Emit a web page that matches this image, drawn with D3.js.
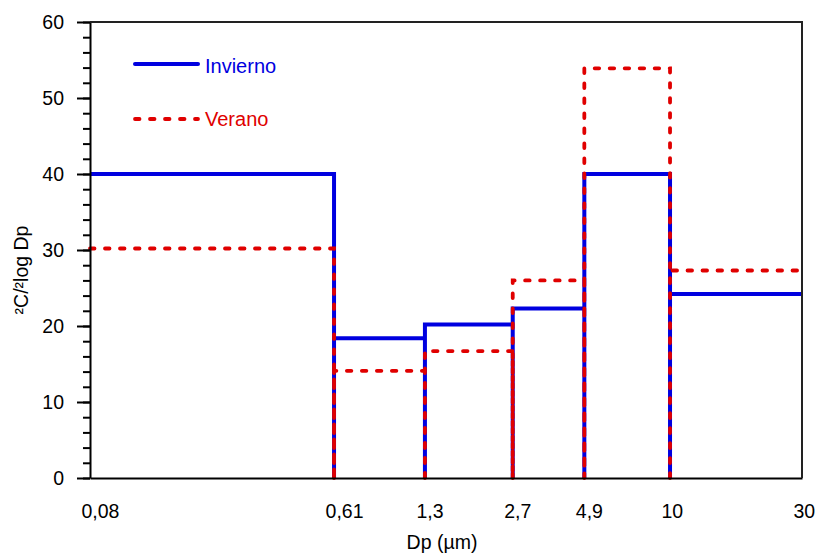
<!DOCTYPE html>
<html>
<head>
<meta charset="utf-8">
<script src="https://cdn.jsdelivr.net/npm/d3@7"></script>
<style>
  html, body { margin: 0; padding: 0; background: #fff; }
  svg { display: block; font-family: Arial, "Liberation Sans", sans-serif; }
</style>
</head>
<body>
<svg id="chart" width="818" height="555"></svg>
<script>
// ---- data ----
const binEdges = [0.08, 0.61, 1.3, 2.7, 4.9, 10, 30];
const xTickLabels = ["0,08", "0,61", "1,3", "2,7", "4,9", "10", "30"];
const invierno = [40, 18.4, 20.2, 22.3, 40, 24.2];
const verano = [30.2, 14.1, 16.7, 26.0, 53.9, 27.3];
const yMajorTicks = [0, 10, 20, 30, 40, 50, 60];
const seriesNames = ["Invierno", "Verano"];

// ---- layout ----
const svg = d3.select("#chart");
const pLeft = 90, pRight = 802, pTop = 22, pBottom = 478;
const x = d3.scaleLog().domain([0.08, 30]).range([pLeft, pRight]);
const y = d3.scaleLinear().domain([0, 60]).range([pBottom, pTop]);

const blue = "#0000e0", red = "#e00000";
const fontFam = "Arial, 'Liberation Sans', sans-serif";

function barsPath(vals) {
  const p = d3.path();
  const n = vals.length;
  vals.forEach((v, i) => {
    const x0 = x(binEdges[i]), x1 = x(binEdges[i + 1]);
    if (i === 0) p.moveTo(x0, y(v));
    else { p.moveTo(x0, y(0)); p.lineTo(x0, y(v)); }
    p.lineTo(x1, y(v));
    if (i < n - 1) p.lineTo(x1, y(0));
  });
  return p.toString();
}

svg.append("path")
  .attr("d", barsPath(invierno))
  .attr("fill", "none").attr("stroke", blue).attr("stroke-width", 4)
  .attr("stroke-linejoin", "miter");

svg.append("path")
  .attr("d", barsPath(verano))
  .attr("fill", "none").attr("stroke", red).attr("stroke-width", 3.8)
  .attr("stroke-linecap", "round")
  .attr("stroke-dasharray", "4.5,10.5");

// ---- axes ----
const minorTicks = d3.range(0, 61, 2);
svg.append("g").attr("transform", `translate(${pLeft},0)`)
  .call(d3.axisLeft(y).tickValues(minorTicks).tickSize(7).tickFormat("").tickSizeOuter(0))
  .call(g => g.select(".domain").remove())
  .call(g => g.selectAll("line").attr("stroke", "#000").attr("stroke-width", 2));

svg.append("g").attr("transform", `translate(${pLeft},0)`)
  .call(d3.axisLeft(y).tickValues(yMajorTicks).tickSize(13).tickPadding(13).tickSizeOuter(0))
  .call(g => g.select(".domain").attr("stroke", "#000").attr("stroke-width", 2))
  .call(g => g.selectAll("line").attr("stroke", "#000").attr("stroke-width", 2))
  .call(g => g.selectAll("text").attr("font-size", 19.5).attr("fill", "#000")
    .attr("font-family", fontFam));

svg.append("g").attr("transform", `translate(0,${pBottom})`)
  .call(d3.axisBottom(x).tickValues(binEdges).tickSize(0).tickPadding(26)
    .tickFormat((d, i) => xTickLabels[i]).tickSizeOuter(0))
  .call(g => g.select(".domain").attr("stroke", "#000").attr("stroke-width", 2))
  .call(g => g.selectAll("text").attr("font-size", 19.5).attr("fill", "#000")
    .attr("text-anchor", "start").attr("dx", -9)
    .attr("font-family", fontFam));

// frame top & right
svg.append("path")
  .attr("d", `M${pLeft},${pTop}H${pRight}V${pBottom}`)
  .attr("fill", "none").attr("stroke", "#222").attr("stroke-width", 2);

// axis titles
svg.append("text")
  .attr("x", 442).attr("y", 549)
  .attr("text-anchor", "middle").attr("font-size", 19.5)
  .text("Dp (µm)");

svg.append("text")
  .attr("transform", "translate(28,270) rotate(-90)")
  .attr("text-anchor", "middle").attr("font-size", 19.5)
  .text("²C/²log Dp");

// legend
const legend = [
  { name: seriesNames[0], color: blue, dash: null, y: 64, ty: 72.7 },
  { name: seriesNames[1], color: red, dash: "4.5,10.5", y: 119, ty: 126 }
];
legend.forEach(l => {
  const ln = svg.append("line")
    .attr("x1", 135).attr("x2", 198).attr("y1", l.y).attr("y2", l.y)
    .attr("stroke", l.color).attr("stroke-width", 4)
    .attr("stroke-linecap", "round");
  if (l.dash) ln.attr("stroke-dasharray", l.dash).attr("stroke-width", 3.8);
  svg.append("text")
    .attr("x", 205).attr("y", l.ty)
    .attr("font-size", 20).attr("fill", l.color)
    .text(l.name);
});
</script>
</body>
</html>
